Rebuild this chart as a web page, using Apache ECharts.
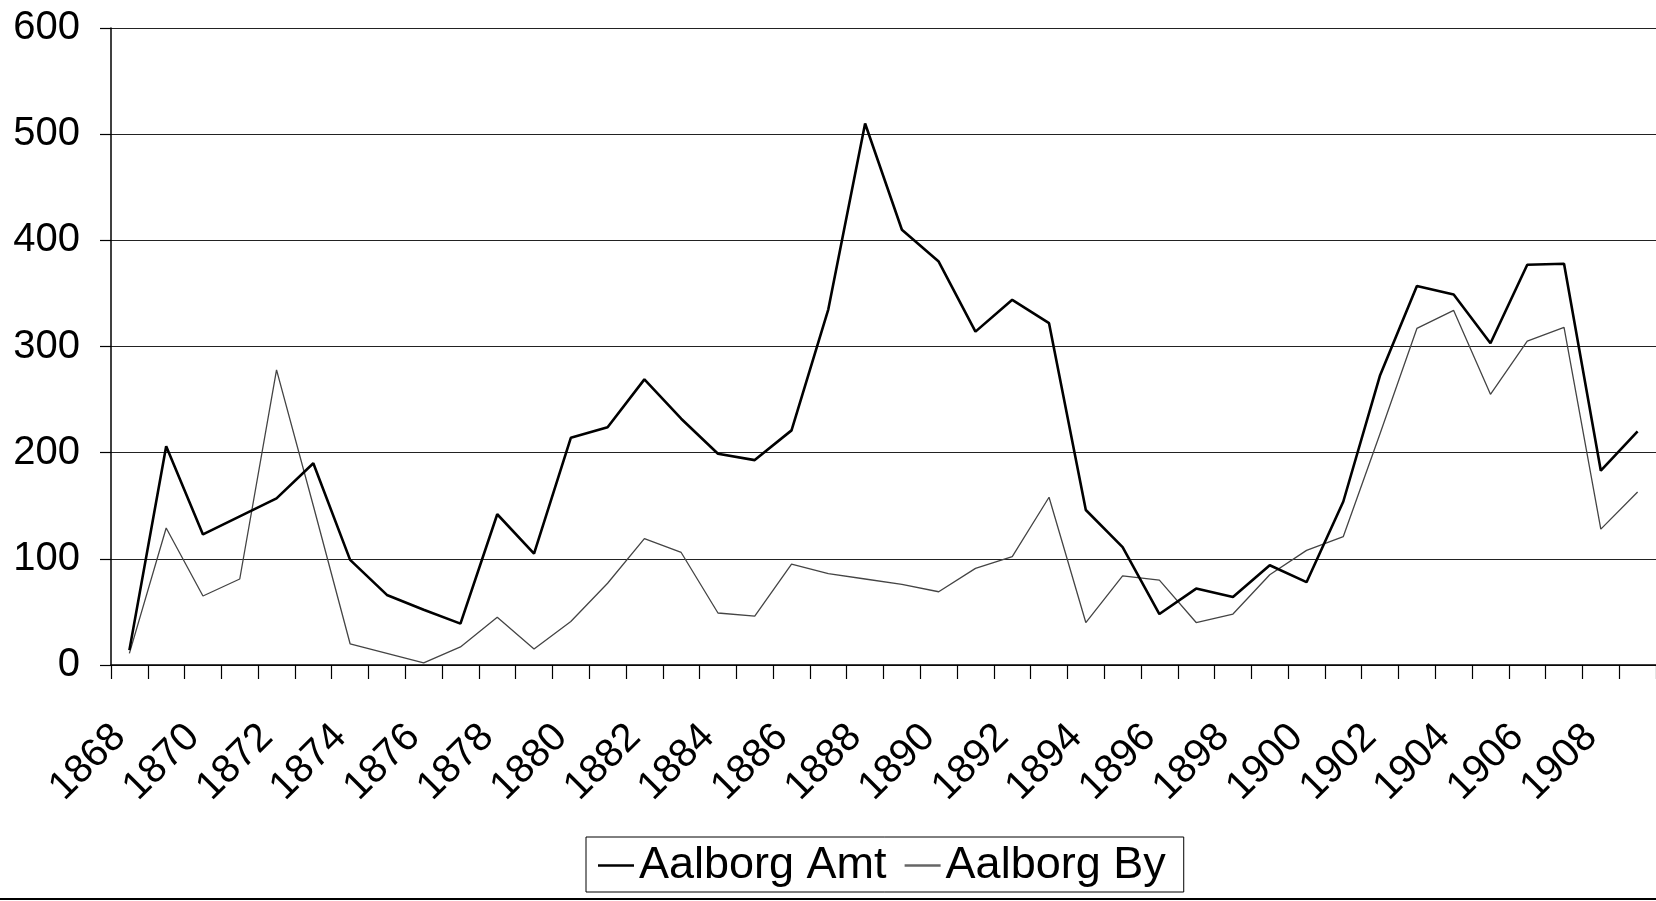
<!DOCTYPE html>
<html>
<head>
<meta charset="utf-8">
<title>Aalborg Amt / Aalborg By</title>
<script src="https://cdn.jsdelivr.net/npm/echarts@6/dist/echarts.min.js"></script>
<style>
  html, body { margin: 0; padding: 0; background: #fff; }
  #chart { width: 1656px; height: 901px; }
</style>
</head>
<body>
<div id="chart"></div>
<script>
// år 1868-1909
const years = [
  '1868', '1869', '1870', '1871', '1872', '1873', '1874', '1875', '1876', '1877',
  '1878', '1879', '1880', '1881', '1882', '1883', '1884', '1885', '1886', '1887',
  '1888', '1889', '1890', '1891', '1892', '1893', '1894', '1895', '1896', '1897',
  '1898', '1899', '1900', '1901', '1902', '1903', '1904', '1905', '1906', '1907',
  '1908', '1909'
];

const aalborgAmt = [
  14, 206, 123, 140, 157, 190, 99, 66, 52, 39,
  142, 105, 214, 224, 269, 232, 199, 193, 221, 335,
  510, 410, 380, 314, 344, 322, 146, 111, 48, 72,
  64, 94, 78, 154, 273, 357, 349, 303, 377, 378,
  183, 220
];

const aalborgBy = [
  11, 129, 65, 81, 278, 150, 20, 11, 2, 17,
  45, 15, 41, 77, 119, 106, 49, 46, 95, 86,
  81, 76, 69, 91, 102, 158, 40, 84, 80, 40,
  48, 85, 108, 121, 218, 317, 334, 255, 305, 318,
  128, 163
];

const yTicks = [0, 100, 200, 300, 400, 500, 600];

const FONT = "'Liberation Sans', Arial, sans-serif";

const chart = echarts.init(document.getElementById('chart'));

const option = {
  backgroundColor: '#fff',
  animation: false,
  textStyle: { fontFamily: FONT },
  grid: {
    left: 111,
    top: 28,
    width: 1553,
    height: 637,
    containLabel: false
  },
  legend: {
    left: 586,
    top: 837,
    padding: [6, 18, 4, 12],
    itemGap: 18,
    itemWidth: 36,
    itemHeight: 2.5,
    borderColor: '#000',
    borderWidth: 1,
    borderRadius: 0,
    textStyle: { fontSize: 45, color: '#000', fontFamily: FONT },
    data: [
      { name: 'Aalborg Amt', icon: 'rect', itemStyle: { color: '#000' } },
      { name: 'Aalborg By', icon: 'rect', itemStyle: { color: '#666' } }
    ]
  },
  xAxis: {
    type: 'category',
    data: years,
    boundaryGap: true,
    axisLine: { lineStyle: { color: '#000', width: 1.5 } },
    axisTick: { show: true, interval: 0, length: 14, lineStyle: { color: '#000', width: 1.2 } },
    axisLabel: {
      interval: 1,
      rotate: 45,
      margin: 56,
      padding: [0, 14, 0, 0],
      fontSize: 40,
      color: '#000',
      fontFamily: FONT
    },
    splitLine: { show: false }
  },
  yAxis: {
    type: 'value',
    min: yTicks[0],
    max: yTicks[yTicks.length - 1],
    interval: 100,
    axisLine: { show: true, lineStyle: { color: '#000', width: 1.5 } },
    axisTick: { show: true, length: 11, lineStyle: { color: '#000', width: 1.2 } },
    axisLabel: {
      margin: 31,
      fontSize: 40,
      color: '#000',
      fontFamily: FONT
    },
    splitLine: { show: true, lineStyle: { color: '#222', width: 1.2 } }
  },
  graphic: [
    {
      type: 'line',
      shape: { x1: 0, y1: 899, x2: 1656, y2: 899 },
      style: { stroke: '#000', lineWidth: 2 },
      z: 0
    }
  ],
  series: [
    {
      name: 'Aalborg Amt',
      type: 'line',
      data: aalborgAmt,
      symbol: 'none',
      lineStyle: { color: '#000', width: 2.6 },
      itemStyle: { color: '#000' },
      z: 3
    },
    {
      name: 'Aalborg By',
      type: 'line',
      data: aalborgBy,
      symbol: 'none',
      lineStyle: { color: '#444', width: 1.3 },
      itemStyle: { color: '#444' },
      z: 2
    }
  ]
};

chart.setOption(option);
window.addEventListener('resize', () => chart.resize());
</script>
</body>
</html>
